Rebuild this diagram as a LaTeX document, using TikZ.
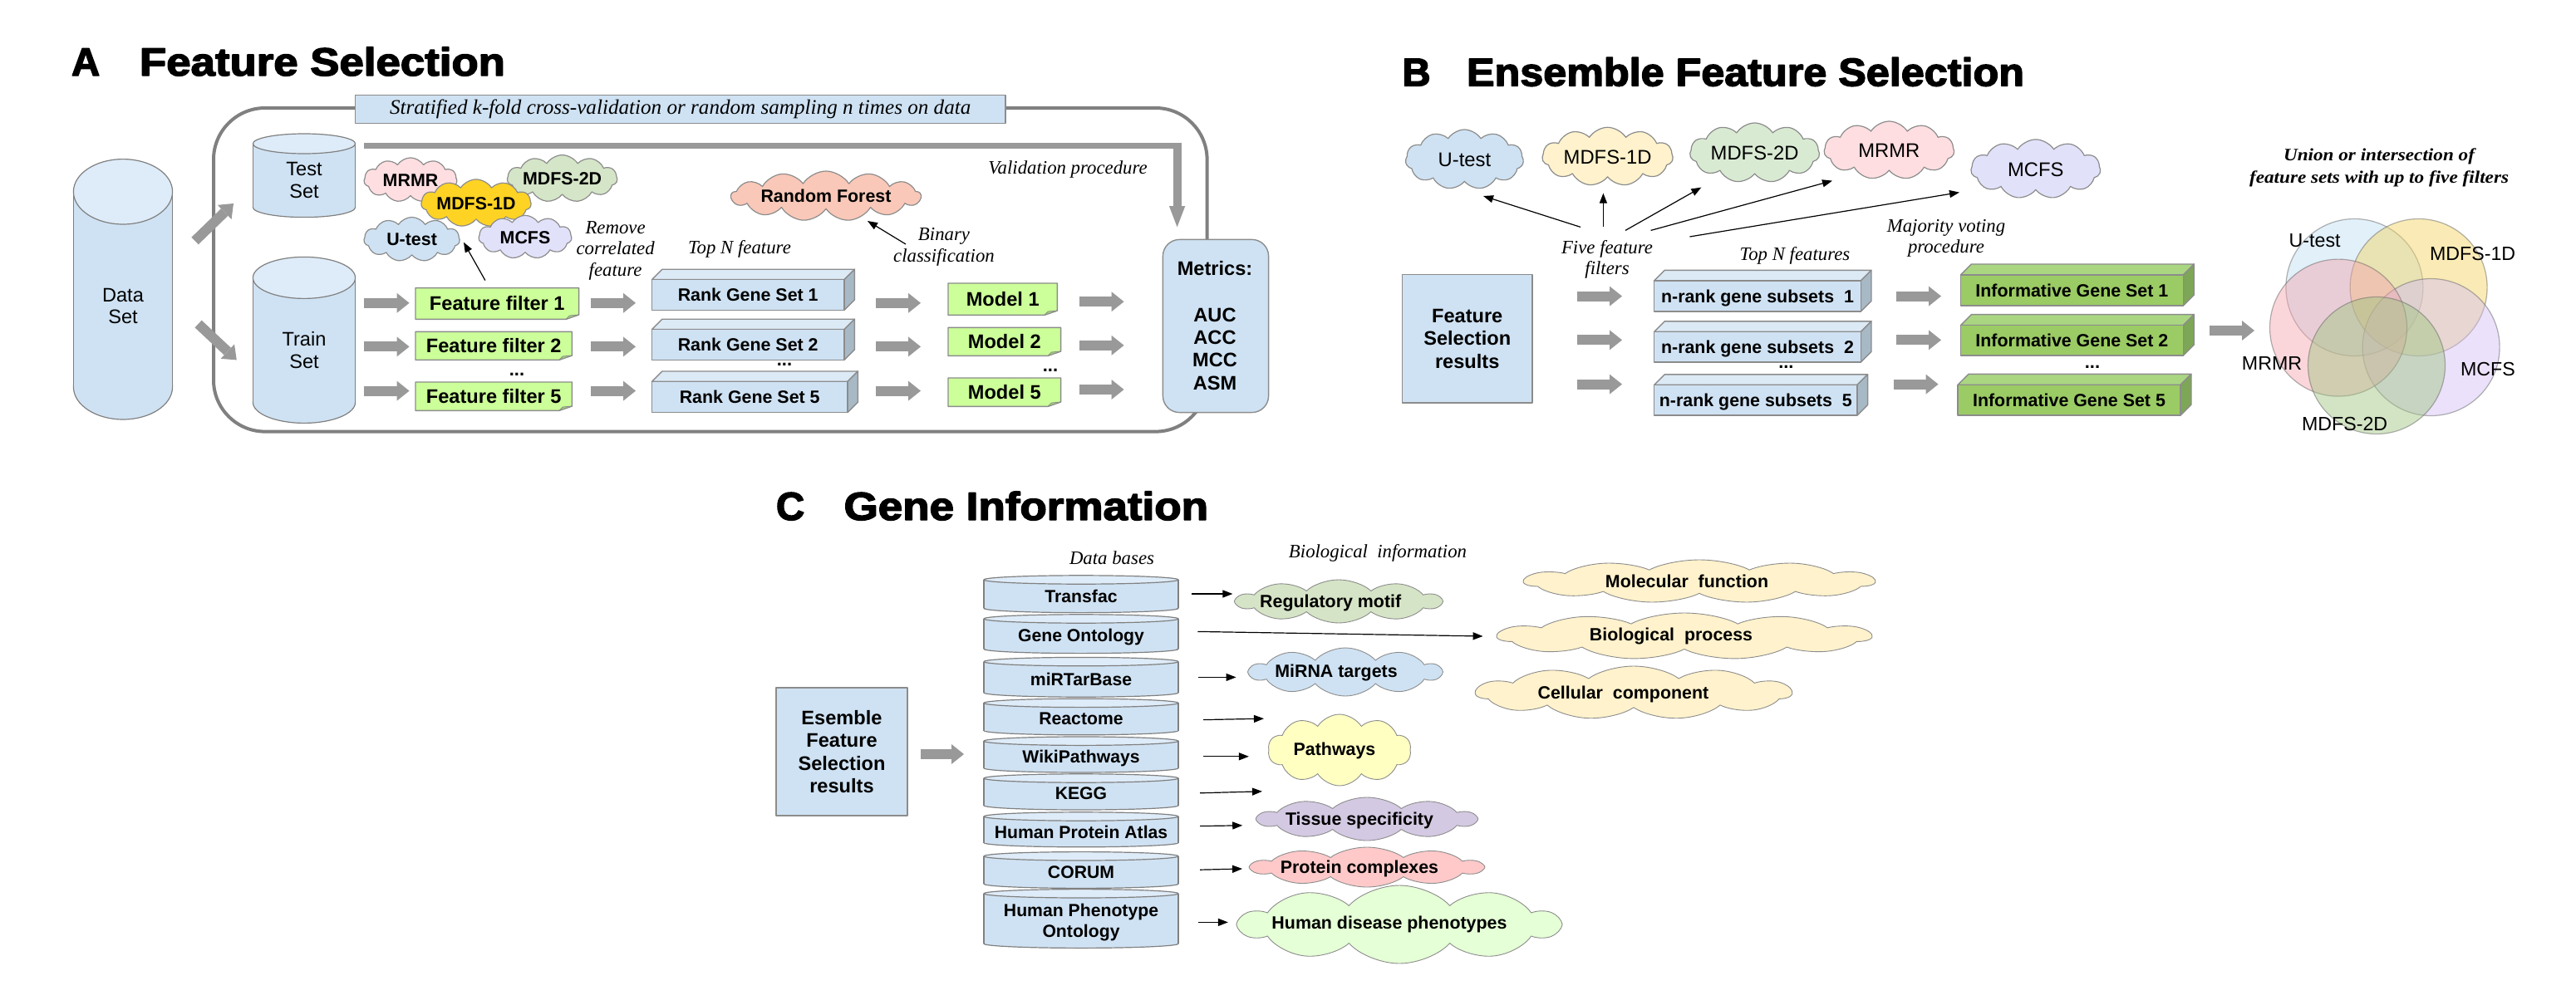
\documentclass[tikz,border=0pt]{standalone}
\usepackage{fontspec}
\usepackage{graphicx}
\setmainfont{Liberation Sans}
\newfontfamily\serifit{Liberation Serif}
\newfontfamily\heavyfont{Liberation Sans Bold}[FakeBold=3]
\usetikzlibrary{shapes.symbols,arrows.meta}

\definecolor{lblue}{HTML}{CFE2F3}
\definecolor{ltop}{HTML}{DEEBF8}
\definecolor{cylline}{HTML}{808080}
\definecolor{agray}{HTML}{999999}
\definecolor{boxline}{HTML}{808080}
\definecolor{edgegray}{HTML}{8C8C8C}
\definecolor{notegreen}{HTML}{CCFF99}
\definecolor{notefold}{HTML}{9FCC7A}
\definecolor{rbF}{HTML}{CFE2F3}
\definecolor{rbT}{HTML}{DCEAF6}
\definecolor{rbS}{HTML}{A8B9C6}
\definecolor{igF}{HTML}{9BCB64}
\definecolor{igT}{HTML}{AAD682}
\definecolor{igS}{HTML}{7DA656}
\definecolor{clline}{HTML}{8C8C8C}
\definecolor{cPink}{HTML}{FFDEE1}
\definecolor{cGold}{HTML}{FFD324}
\definecolor{cSage}{HTML}{D5E5C8}
\definecolor{cBlue}{HTML}{CFE2F3}
\definecolor{cLav}{HTML}{E1E1FA}
\definecolor{cSalmon}{HTML}{F9C8B8}
\definecolor{cCream}{HTML}{FFF2CC}
\definecolor{cSageB}{HTML}{D9EAD3}
\definecolor{cRegM}{HTML}{D5E4C6}
\definecolor{cPath}{HTML}{FFFFC2}
\definecolor{cTissue}{HTML}{D4C9E2}
\definecolor{cProt}{HTML}{FFC9C9}
\definecolor{cHum}{HTML}{E5FFD6}
\definecolor{vBlue}{HTML}{BFDDF2}
\definecolor{vYellow}{HTML}{F3D35E}
\definecolor{vPink}{HTML}{F3A3AC}
\definecolor{vGreen}{HTML}{9DC47E}
\definecolor{vLav}{HTML}{D3BCF3}

\newcommand\fitw[2]{\resizebox{#1}{\height}{#2}}
\newcommand\fzTitle{\heavyfont\fontsize{23.7}{26}\selectfont}
\newcommand\fzNodeA{\bfseries\fontsize{11.8}{13.7}\selectfont}
\newcommand\fzBox{\bfseries\fontsize{10.7}{12}\selectfont}
\newcommand\fzCloudA{\bfseries\fontsize{10.7}{12}\selectfont}
\newcommand\fzCloudB{\fontsize{11.9}{13}\selectfont}
\newcommand\fzCyl{\fontsize{11.8}{13.2}\selectfont}
\newcommand\fzItal{\serifit\itshape\fontsize{11.4}{12.8}\selectfont}
\newcommand\fzDb{\bfseries\fontsize{10.6}{12.7}\selectfont}
\newcommand\fzCloudC{\bfseries\fontsize{10.7}{12}\selectfont}
\newcommand\fzVenn{\fontsize{11.6}{13}\selectfont}
\newcommand\fzBig{\bfseries\fontsize{11.8}{13.8}\selectfont}

% cylinder: cx, ty, by, rx, ry, body colour, top colour
\newcommand\cylshape[7]{%
  \filldraw[draw=cylline,line width=0.6pt,fill=#6] (#1,#3) ellipse[x radius=#4,y radius=#5];
  \fill[#6] ({#1-#4},#2) rectangle ({#1+#4},#3);
  \draw[cylline,line width=0.6pt] ({#1-#4},#2) -- ({#1-#4},#3) ({#1+#4},#2) -- ({#1+#4},#3);
  \filldraw[draw=cylline,line width=0.6pt,fill=#7] (#1,#2) ellipse[x radius=#4,y radius=#5];
}
% note box: name, x1, y1, x2, y2, text
\newcommand\notebox[6]{%
  \filldraw[draw=edgegray,line width=0.7pt,fill=notegreen] (#2,#3) -- (#4,#3) -- (#4,{#5-2.7}) -- ({#4-7.8},#5) -- (#2,#5) -- cycle;
  \filldraw[draw=edgegray,line width=0.4pt,fill=notefold] ({#4-7.8},#5) -- ({#4-5.6},{#5-2.2}) -- (#4,{#5-2.7}) -- cycle;
  \node[minimum width={(#4-#2)*1pt},minimum height={(#5-#3)*1pt},font=\fzNodeA,text height=8.4pt,text depth=0pt] (#1) at ({(#2+#4)/2},{(#3+#5)/2}) {#6};
}
% 3D box: name, x1, y1, x2, y2, colour prefix, depth, text
\newcommand\boxthreed[8]{%
  \filldraw[draw=edgegray,line width=0.7pt,fill=#6T] (#2,#3) -- ({#2+#7},{#3-#7}) -- ({#4+#7},{#3-#7}) -- (#4,#3) -- cycle;
  \filldraw[draw=edgegray,line width=0.7pt,fill=#6S] (#4,#3) -- ({#4+#7},{#3-#7}) -- ({#4+#7},{#5-#7}) -- (#4,#5) -- cycle;
  \node[draw=edgegray,line width=0.7pt,fill=#6F,minimum width={(#4-#2)*1pt},minimum height={(#5-#3)*1pt},font=\fzBox,text height=7.7pt,text depth=0pt] (#1) at ({(#2+#4)/2},{(#3+#5)/2}) {#8};
}
% stretched cloud outline: name, cx, cy, width, height, xscale, fill, puffs
\newcommand\wcloud[8]{%
  \node[cloud,cloud puffs=#8,cloud puff arc=115,cloud ignores aspect,draw=clline,line width=0.45pt,fill=#7,xscale=#6,minimum width={#4/#6*1pt},minimum height=#5pt] (#1) at (#2,#3) {};
}

\begin{document}
\begin{tikzpicture}[x=1pt,y=-1pt,line join=round,
  every node/.style={inner sep=0pt,outer sep=0pt},
  bigarrow/.style={draw=agray,line width=6pt,-{Triangle[length=7.5pt,width=12pt,line width=0pt]}},
  thinarrow/.style={draw=black,line width=0.6pt,-{Triangle[length=6pt,width=4.5pt]}},
  cl/.style={cloud,cloud puffs=11,cloud puff arc=115,cloud ignores aspect,draw=clline,line width=0.6pt,align=center},
  clA/.style={cl,font=\fzCloudA,text height=7.7pt,text depth=0pt},
  clB/.style={cl,font=\fzCloudB,text height=8.5pt,text depth=0pt},
  ctext/.style={font=\fzCloudC,text height=7.7pt,text depth=0pt},
  ital/.style={font=\fzItal,align=center},
  plainbox/.style={draw=edgegray,line width=0.7pt,fill=lblue,align=center},
  dbnode/.style={font=\fzDb,minimum width=117pt,align=center,text height=7.6pt,text depth=0pt},
  vcirc/.style={circle,minimum size=82.5pt,fill opacity=0.45,draw=black!60,draw opacity=0.5,line width=0.6pt},
  dotsn/.style={font=\bfseries\fontsize{11}{12}\selectfont}
]
\useasboundingbox (0,0) rectangle (1550,605);

%================ PANEL A =================
\node[anchor=base west,font=\fzTitle] (tA) at (43,45.5) {A};
\node[anchor=base west,font=\fzTitle] (tAtext) at (84,45.5) {\fitw{220pt}{Feature Selection}};

\draw[draw=boxline,line width=2pt,rounded corners=31pt] (128.5,65) rectangle (726.3,259.8);

\node[draw=edgegray,line width=0.8pt,fill=lblue,minimum width=391.3pt,minimum height=17pt,font=\serifit\itshape\fontsize{12.5}{14}\selectfont] (banner) at (409.35,65.7) {\fitw{349.7pt}{Stratified k-fold cross-validation or random sampling n times on data}};

% cylinders
\cylshape{74}{115.4}{232.9}{29.8}{19.6}{lblue}{ltop}
\node[minimum width=59.6pt,minimum height=156.7pt] (data) at (74,174.2) {};
\node[font=\fzCyl,align=center] (dataT) at (74,184.2) {Data\\Set};

\cylshape{183}{86.5}{124.8}{30.8}{6}{lblue}{ltop}
\node[minimum width=61.6pt,minimum height=50.3pt] (test) at (183,105.6) {};
\node[font=\fzCyl,align=center] (testT) at (183,108.5) {Test\\Set};

\cylshape{183}{167.2}{242.2}{30.8}{12.5}{lblue}{ltop}
\node[minimum width=61.6pt,minimum height=100pt] (train) at (183,204.7) {};
\node[font=\fzCyl,align=center] (trainT) at (183,210.8) {Train\\Set};

\draw[bigarrow] ([shift={(13.5,-29.2)}]data.east) -- ([shift={(-11.7,16.9)}]test.west);
\draw[bigarrow] ([shift={(15.5,20.8)}]data.east) -- ([shift={(-9.8,12)}]train.west);

% metrics
\node[draw=edgegray,line width=0.7pt,fill=lblue,rounded corners=10pt,minimum width=63.6pt,minimum height=104.1pt] (metrics) at (731.5,196.25) {};
\node[font=\fzNodeA,text height=8.4pt,text depth=0pt] (metT) at (731,161.3) {Metrics:};
\node[font=\fzNodeA,align=center] (metL) at (731,210) {AUC\\ACC\\MCC\\ASM};

% validation procedure
\coordinate (valS) at (219.2,87.7);
\coordinate (valC) at (710.8,87.7);
\draw[draw=agray,line width=3.7pt] (valS) -- (valC);
\draw[draw=agray,line width=5pt,-{Triangle[length=12.7pt,width=9.7pt,line width=0pt]}] ([xshift=-2.5pt,yshift=1.85pt]valC) -- ([xshift=-2.5pt,yshift=7.5pt]valC |- metrics.north);
\node[ital] (valP) at (642.5,102) {Validation procedure};

% filter clouds
\node[clA,fill=cPink,minimum width=56pt,minimum height=26.7pt] (mrmrA) at (247,108.3) {MRMR};
\node[clA,fill=cSage,minimum width=65pt,minimum height=28.4pt] (mdfs2A) at (338.3,107.5) {MDFS-2D};
\node[clA,fill=cGold,minimum width=65pt,minimum height=28.7pt] (mdfs1A) at (286.5,122.3) {MDFS-1D};
\node[clA,fill=cBlue,minimum width=57.7pt,minimum height=26.7pt] (utestA) at (247.8,144.1) {U-test};
\node[clA,fill=cLav,minimum width=56pt,minimum height=26.1pt] (mcfsA) at (316,142.7) {MCFS};
\node[ital] (rcf) at (370.3,150.9) {Remove\\correlated\\feature};

% feature filters
\notebox{ff1}{250}{173.3}{348.3}{192.2}{Feature filter 1}
\notebox{ff2}{250}{199.7}{344.2}{216.7}{Feature filter 2}
\notebox{ff5}{250}{230}{344.2}{247.2}{Feature filter 5}
\node[dotsn] (ffdots) at (311,225.5) {...};
\draw[thinarrow] ([shift={(-7.2,-4.5)}]ff1.north) -- ([shift={(-7.5,13.9)}]mdfs1A.center |- mdfs1A.south);

% rows
\coordinate (rA1) at (0,182.4);
\coordinate (rA2) at (0,208.7);
\coordinate (rA3) at (0,235.3);

% rank gene sets
\node[ital] (topnA) at (445,150) {Top N feature};
\boxthreed{rank1}{392.2}{168.3}{508}{186.7}{rb}{6.2}{Rank Gene Set 1}
\boxthreed{rank2}{392.2}{198.3}{508}{216.7}{rb}{6.2}{Rank Gene Set 2}
\boxthreed{rank5}{392.2}{229.7}{510}{248.3}{rb}{6.2}{Rank Gene Set 5}
\node[dotsn] (rankdots) at (472,219.5) {...};

% random forest
\node[clA,fill=cSalmon,minimum width=114pt,minimum height=30pt,cloud puffs=13] (rf) at (497,118) {Random Forest};
\node[ital] (binc) at (568,148.7) {Binary\\classification};
\draw[thinarrow] ([shift={(-23,-1.7)}]binc.center) -- ([shift={(25,15)}]rf.center);

% models
\notebox{m1}{570.5}{170.5}{636.2}{189.7}{Model 1}
\notebox{m2}{570.5}{197.2}{638.3}{214.2}{Model 2}
\notebox{m5}{570.5}{227.5}{638.3}{244.7}{Model 5}
\node[dotsn] (mdots) at (632,223) {...};

% block arrows in A
\draw[bigarrow] ([xshift=5.2pt]train.east |- rA1) -- ([xshift=-3.7pt]ff1.west |- rA1);
\draw[bigarrow] ([xshift=5.2pt]train.east |- rA2) -- ([xshift=-3.7pt]ff2.west |- rA2);
\draw[bigarrow] ([xshift=5.2pt]train.east |- rA3) -- ([xshift=-3.7pt]ff5.west |- rA3);
\draw[bigarrow] ([xshift=-36.7pt]rank1.west |- rA1) -- ([xshift=-9.7pt]rank1.west |- rA1);
\draw[bigarrow] ([xshift=-36.7pt]rank2.west |- rA2) -- ([xshift=-9.7pt]rank2.west |- rA2);
\draw[bigarrow] ([xshift=-36.7pt]rank5.west |- rA3) -- ([xshift=-9.7pt]rank5.west |- rA3);
\draw[bigarrow] ([xshift=-43.5pt]m1.west |- rA1) -- ([xshift=-16.5pt]m1.west |- rA1);
\draw[bigarrow] ([xshift=-43.5pt]m2.west |- rA2) -- ([xshift=-16.5pt]m2.west |- rA2);
\draw[bigarrow] ([xshift=-43.5pt]m5.west |- rA3) -- ([xshift=-16.5pt]m5.west |- rA3);
\draw[bigarrow] ([xshift=-50.2pt,yshift=0.8pt]metrics.west |- rA1) -- ([xshift=-23.4pt,yshift=0.8pt]metrics.west |- rA1);
\draw[bigarrow] ([xshift=-50.2pt,yshift=0.8pt]metrics.west |- rA2) -- ([xshift=-23.4pt,yshift=0.8pt]metrics.west |- rA2);
\draw[bigarrow] ([xshift=-50.2pt,yshift=0.8pt]metrics.west |- rA3) -- ([xshift=-23.4pt,yshift=0.8pt]metrics.west |- rA3);

%================ PANEL B =================
\node[anchor=base west,font=\fzTitle] (tB) at (843.7,51.7) {B};
\node[anchor=base west,font=\fzTitle] (tBtext) at (882.5,51.7) {\fitw{335.5pt}{Ensemble Feature Selection}};

\node[clB,fill=cBlue,minimum width=71pt,minimum height=36pt] (utestB) at (881.2,96) {U-test};
\node[clB,fill=cCream,minimum width=78.7pt,minimum height=35.3pt] (mdfs1B) at (967.3,94.3) {MDFS-1D};
\node[clB,fill=cSageB,minimum width=78pt,minimum height=36pt] (mdfs2B) at (1055.8,92) {MDFS-2D};
\node[clB,fill=cPink,minimum width=78.3pt,minimum height=35pt] (mrmrB) at (1136.7,90.5) {MRMR};
\node[clB,fill=cLav,minimum width=78pt,minimum height=35.7pt] (mcfsB) at (1224.9,101.8) {MCFS};

\node[ital] (fff) at (967,156.1) {Five feature\\filters};
\draw[thinarrow] ([shift={(-16,-19.4)}]fff.center) -- ([shift={(11.3,22)}]utestB.center);
\draw[thinarrow] ([shift={(-2.3,-19.4)}]fff.center) -- ([shift={(-2.6,22)}]mdfs1B.center);
\draw[thinarrow] ([shift={(11,-17.4)}]fff.center) -- ([shift={(-32.1,20.8)}]mdfs2B.center);
\draw[thinarrow] ([shift={(26.3,-17.4)}]fff.center) -- ([shift={(-34.2,18.3)}]mrmrB.center);
\draw[thinarrow] ([shift={(49.7,-13.6)}]fff.center) -- ([shift={(-45.9,14)}]mcfsB.center);

\node[ital] (topnB) at (1080,154) {Top N features};
\node[ital] (mvp) at (1171,143.4) {Majority voting\\procedure};

\node[plainbox,minimum width=78.3pt,minimum height=77.2pt,font=\fzBig] (fsr) at (882.85,203.9) {Feature\\Selection\\results};

\coordinate (rB1) at (0,178.3);
\coordinate (rB2) at (0,204.7);
\coordinate (rB3) at (0,231.3);

\boxthreed{nr1}{995.3}{169}{1119.7}{187.5}{rb}{6.3}{n-rank gene subsets\ \ 1}
\boxthreed{nr2}{995.3}{199.7}{1119.7}{218}{rb}{6.3}{n-rank gene subsets\ \ 2}
\boxthreed{nr5}{995.3}{231.7}{1117.5}{250}{rb}{6.3}{n-rank gene subsets\ \ 5}
\node[dotsn] (nrdots) at (1074.7,221) {...};

\boxthreed{ig1}{1179.7}{165.5}{1313.7}{184}{ig}{6.5}{Informative Gene Set 1}
\boxthreed{ig2}{1179.7}{195.8}{1313.7}{214}{ig}{6.5}{Informative Gene Set 2}
\boxthreed{ig5}{1178}{231.7}{1312}{250}{ig}{6.5}{Informative Gene Set 5}
\node[dotsn] (igdots) at (1259,221) {...};

\draw[bigarrow] ([xshift=-46.3pt]nr1.west |- rB1) -- ([xshift=-19.3pt]nr1.west |- rB1);
\draw[bigarrow] ([xshift=-46.3pt]nr2.west |- rB2) -- ([xshift=-19.3pt]nr2.west |- rB2);
\draw[bigarrow] ([xshift=-46.3pt]nr5.west |- rB3) -- ([xshift=-19.3pt]nr5.west |- rB3);
\draw[bigarrow] ([xshift=-38.7pt]ig1.west |- rB1) -- ([xshift=-11.7pt]ig1.west |- rB1);
\draw[bigarrow] ([xshift=-38.7pt]ig2.west |- rB2) -- ([xshift=-11.7pt]ig2.west |- rB2);
\draw[bigarrow] ([xshift=-38.7pt]ig5.west |- rB3) -- ([xshift=-11.7pt]ig5.west |- rB3);

% Venn
\node[vcirc,fill=vBlue] (vU) at (1416.7,173) {};
\node[vcirc,fill=vYellow] (vM1) at (1455.3,173) {};
\node[vcirc,fill=vLav] (vMC) at (1462.8,209) {};
\node[vcirc,fill=vPink] (vMR) at (1407,197.3) {};
\node[vcirc,fill=vGreen] (vM2) at (1430,220) {};
\draw[bigarrow] ([shift={(16,-5.9)}]ig2.east) -- ([shift={(42.8,-5.9)}]ig2.east);
\node[font=\fzVenn] (vUl) at (1392.8,144.7) {U-test};
\node[font=\fzVenn] (vM1l) at (1487.8,152.8) {MDFS-1D};
\node[font=\fzVenn] (vMRl) at (1367,218.8) {MRMR};
\node[font=\fzVenn] (vMCl) at (1497,222.5) {MCFS};
\node[font=\fzVenn] (vM2l) at (1410.8,255.5) {MDFS-2D};
\node[font=\serifit\bfseries\itshape\fontsize{10.5}{13.3}\selectfont,align=center] (vcap) at (1431.5,100.8) {\fitw{115pt}{Union or intersection of}\\\fitw{156pt}{feature sets with up to five filters}};

%================ PANEL C =================
\node[anchor=base west,font=\fzTitle] (tC) at (467,313) {C};
\node[anchor=base west,font=\fzTitle] (tCtext) at (507.8,313) {\fitw{219.2pt}{Gene Information}};

\node[ital] (dbl) at (669,336) {Data bases};
\node[ital] (bil) at (829,333) {Biological\ \ information};

\node[plainbox,minimum width=79pt,minimum height=77pt,font=\fzBig] (esr) at (506.5,452.5) {Esemble\\Feature\\Selection\\results};

\cylshape{650.5}{349.0}{366.2}{58.5}{2.6}{lblue}{ltop}
\node[dbnode] (transfac) at (650.5,358.8) {Transfac};
\cylshape{650.5}{372.5}{390.7}{58.5}{2.6}{lblue}{ltop}
\node[dbnode] (go) at (650.5,382.4) {Gene Ontology};
\cylshape{650.5}{398.3}{417.0}{58.5}{2.6}{lblue}{ltop}
\node[dbnode] (mir) at (650.5,408.9) {miRTarBase};
\cylshape{650.5}{423.2}{439.8}{58.5}{2.6}{lblue}{ltop}
\node[dbnode] (reactome) at (650.5,432.4) {Reactome};
\cylshape{650.5}{446.1}{462.4}{58.5}{2.6}{lblue}{ltop}
\node[dbnode] (wiki) at (650.5,455.4) {WikiPathways};
\cylshape{650.5}{468.5}{484.9}{58.5}{2.6}{lblue}{ltop}
\node[dbnode] (kegg) at (650.5,477.4) {KEGG};
\cylshape{650.5}{491.5}{507.3}{58.5}{2.6}{lblue}{ltop}
\node[dbnode] (hpa) at (650.5,500.9) {Human Protein Atlas};
\cylshape{650.5}{515.4}{532.1}{58.5}{2.6}{lblue}{ltop}
\node[dbnode] (corum) at (650.5,524.8) {CORUM};
\cylshape{650.5}{537.9}{568.1}{58.5}{2.6}{lblue}{ltop}
\node[font=\fzDb,minimum width=117pt,align=center] (hpo) at (650.5,555.2) {Human Phenotype\\Ontology};

\draw[bigarrow] ([xshift=8pt,yshift=-1.5pt]esr.east) -- ([xshift=-12pt,yshift=-1.5pt]esr.east -| wiki.west);

% biological information clouds (stretched outlines + labels)
\wcloud{regm}{805.5}{362}{123}{26}{1.58}{cRegM}{10}
\node[ctext] (regmT) at (800.6,362) {Regulatory motif};
\wcloud{molf}{1022.5}{350}{211}{26}{2.7}{cCream}{11}
\node[ctext] (molfT) at (1015,349.7) {Molecular\ \ function};
\wcloud{biop}{1013.5}{383}{225}{28}{2.68}{cCream}{11}
\node[ctext] (biopT) at (1005.5,382) {Biological\ \ process};
\wcloud{cellc}{983}{417}{190}{32}{1.98}{cCream}{11}
\node[ctext] (cellcT) at (976.7,416.7) {Cellular\ \ component};
\wcloud{mirna}{809.5}{404.5}{115}{29}{1.32}{cBlue}{10}
\node[ctext] (mirnaT) at (804,404) {MiRNA targets};
\wcloud{path}{806}{451.5}{86}{43}{1}{cPath}{10}
\node[ctext] (pathT) at (803,451) {Pathways};
\wcloud{tissue}{822.5}{493}{131}{26}{1.68}{cTissue}{10}
\node[ctext] (tissueT) at (818,492.7) {Tissue specificity};
\wcloud{prot}{822.5}{522}{139}{24}{1.93}{cProt}{10}
\node[ctext] (protT) at (818,522) {Protein complexes};
\wcloud{hum}{842}{556.5}{192}{47}{1.36}{cHum}{10}
\node[ctext] (humT) at (836,555.6) {Human disease phenotypes};

\draw[thinarrow] ([xshift=8pt,yshift=1.3pt]transfac.east) -- ([xshift=-1pt,yshift=1.3pt]regm.west |- transfac.east);
\draw[thinarrow] ([xshift=11.7pt,yshift=2.2pt]go.east) -- ([xshift=-8pt]biop.west);
\draw[thinarrow] ([xshift=12pt,yshift=1.2pt]mir.east) -- ([xshift=-7pt,yshift=1.2pt]mirna.west |- mir.east);
\draw[thinarrow] ([xshift=15pt,yshift=-0.9pt]reactome.east) -- ([xshift=-3pt,yshift=-0.2pt]path.west |- reactome.east);
\draw[thinarrow] ([xshift=15pt]wiki.east) -- ([xshift=-12pt]path.west |- wiki.east);
\draw[thinarrow] ([xshift=13pt]kegg.east) -- ([xshift=-4pt,yshift=1pt]path.west |- kegg.east);
\draw[thinarrow] ([xshift=13pt,yshift=3.6pt]hpa.east) -- ([xshift=-8pt,yshift=4pt]tissue.west |- hpa.east);
\draw[thinarrow] ([xshift=13pt,yshift=1.2pt]corum.east) -- ([xshift=-4pt,yshift=1.8pt]prot.west |- corum.east);
\draw[thinarrow] ([xshift=12pt]hpo.east) -- ([xshift=-5pt]hum.west |- hpo.east);

\end{tikzpicture}
\end{document}
